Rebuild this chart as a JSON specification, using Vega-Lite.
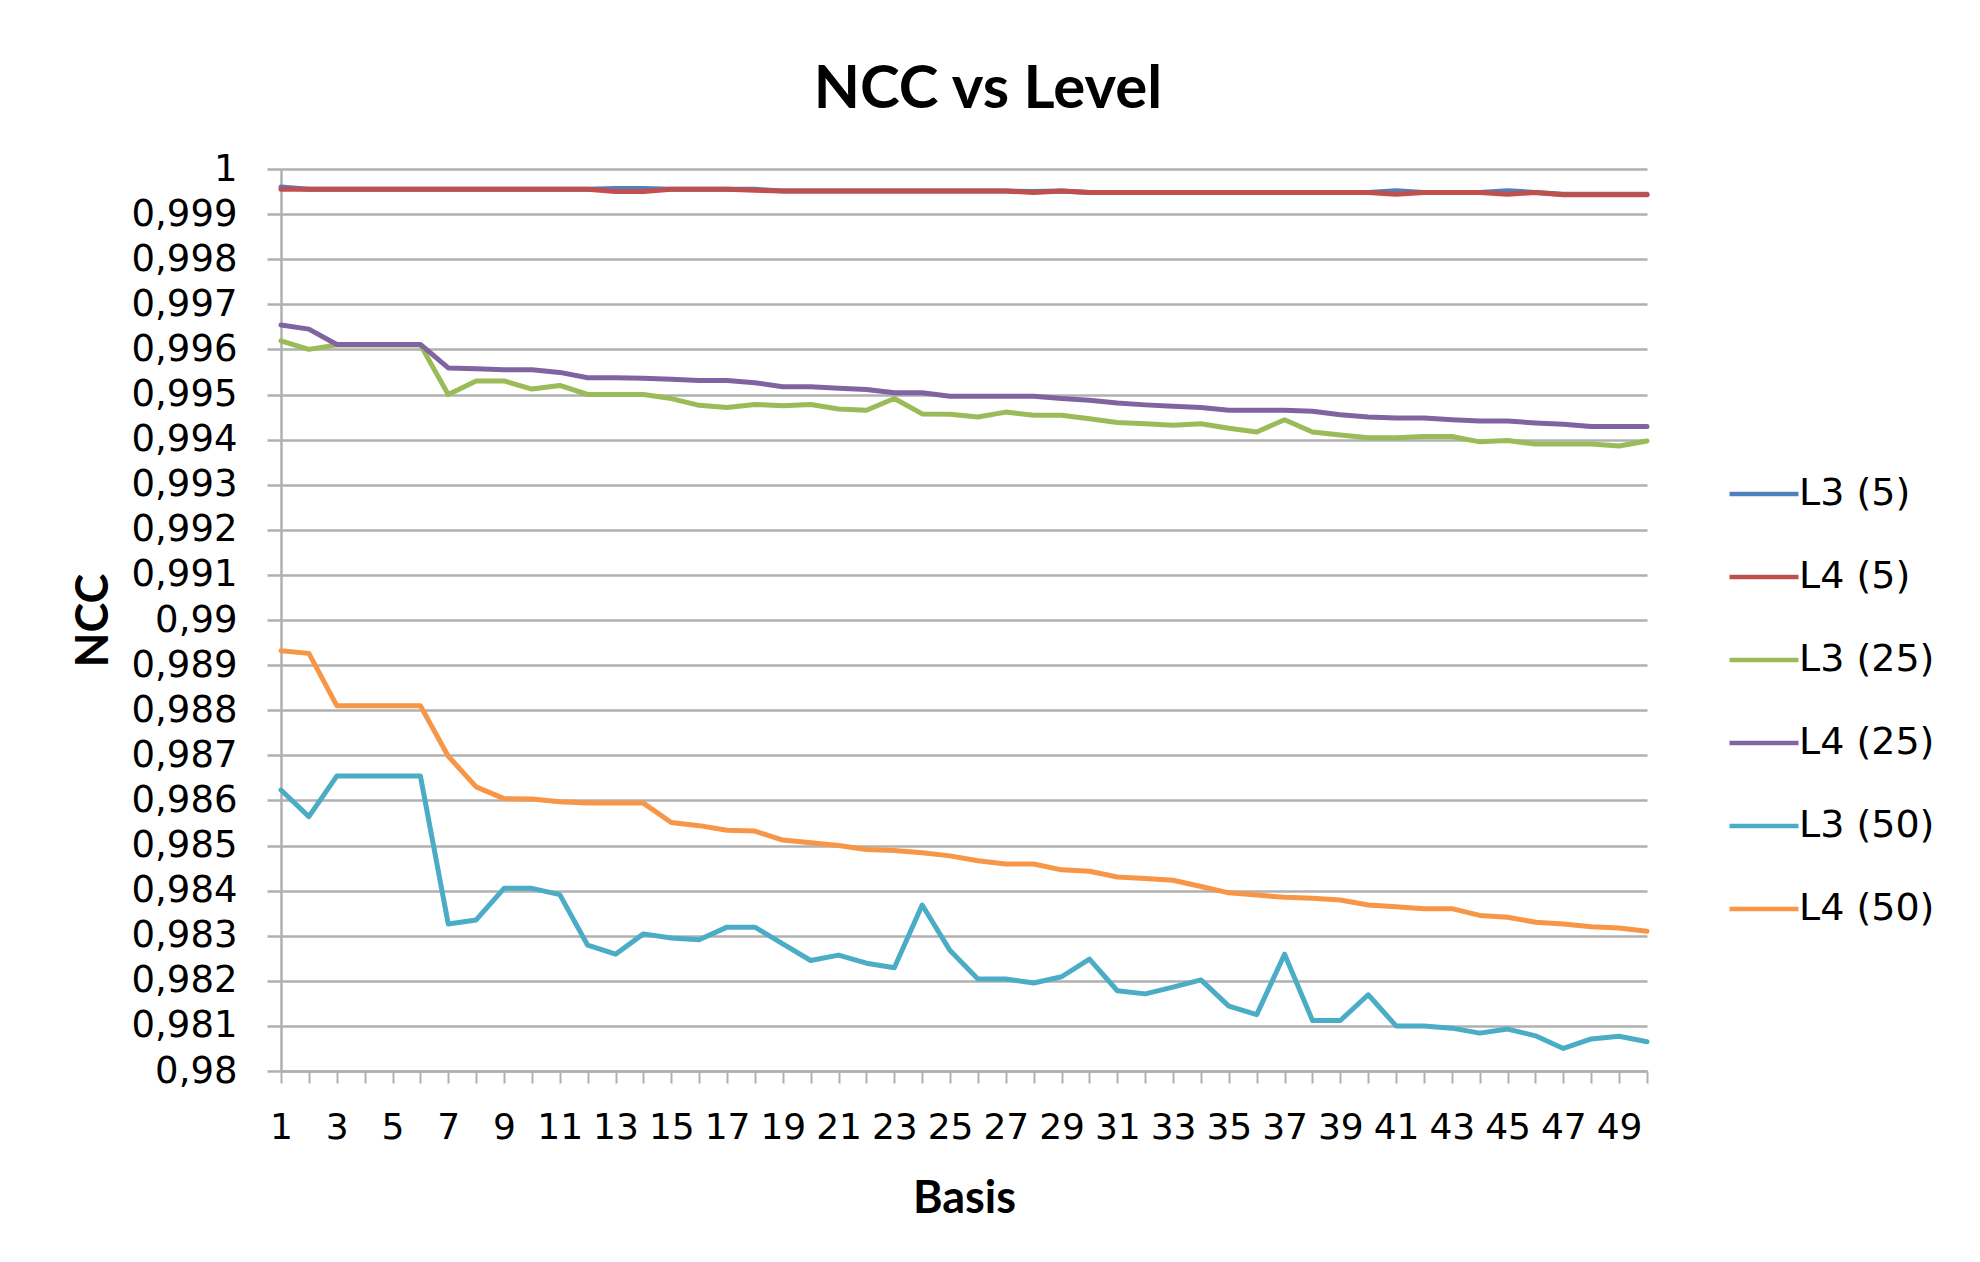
{
  "$schema": "https://vega.github.io/schema/vega-lite/v6.json",
  "width": 1366,
  "height": 902,
  "autosize": {"type": "none"},
  "padding": {"left": 281, "top": 169, "right": 333, "bottom": 191},
  "background": "white",
  "title": {
    "text": "NCC vs Level",
    "font": "Lato",
    "fontWeight": "bold",
    "fontSize": 60,
    "color": "black",
    "anchor": "middle",
    "baseline": "alphabetic",
    "dx": 24,
    "offset": -18
  },
  "data": {
    "values": [
      {"Basis": 1, "L3 (5)": 0.9996, "L4 (5)": 0.99955, "L3 (25)": 0.99619, "L4 (25)": 0.99654, "L3 (50)": 0.98623, "L4 (50)": 0.98932},
      {"Basis": 2, "L3 (5)": 0.99955, "L4 (5)": 0.99955, "L3 (25)": 0.996, "L4 (25)": 0.99645, "L3 (50)": 0.98564, "L4 (50)": 0.98926},
      {"Basis": 3, "L3 (5)": 0.99955, "L4 (5)": 0.99955, "L3 (25)": 0.9961, "L4 (25)": 0.99611, "L3 (50)": 0.98654, "L4 (50)": 0.9881},
      {"Basis": 4, "L3 (5)": 0.99955, "L4 (5)": 0.99955, "L3 (25)": 0.9961, "L4 (25)": 0.99611, "L3 (50)": 0.98654, "L4 (50)": 0.9881},
      {"Basis": 5, "L3 (5)": 0.99955, "L4 (5)": 0.99955, "L3 (25)": 0.9961, "L4 (25)": 0.99611, "L3 (50)": 0.98654, "L4 (50)": 0.9881},
      {"Basis": 6, "L3 (5)": 0.99955, "L4 (5)": 0.99955, "L3 (25)": 0.9961, "L4 (25)": 0.99611, "L3 (50)": 0.98654, "L4 (50)": 0.9881},
      {"Basis": 7, "L3 (5)": 0.99955, "L4 (5)": 0.99955, "L3 (25)": 0.995, "L4 (25)": 0.99559, "L3 (50)": 0.98326, "L4 (50)": 0.98698},
      {"Basis": 8, "L3 (5)": 0.99955, "L4 (5)": 0.99955, "L3 (25)": 0.9953, "L4 (25)": 0.99557, "L3 (50)": 0.98335, "L4 (50)": 0.9863},
      {"Basis": 9, "L3 (5)": 0.99955, "L4 (5)": 0.99955, "L3 (25)": 0.9953, "L4 (25)": 0.99555, "L3 (50)": 0.98405, "L4 (50)": 0.98604},
      {"Basis": 10, "L3 (5)": 0.99955, "L4 (5)": 0.99955, "L3 (25)": 0.99512, "L4 (25)": 0.99555, "L3 (50)": 0.98405, "L4 (50)": 0.98603},
      {"Basis": 11, "L3 (5)": 0.99955, "L4 (5)": 0.99955, "L3 (25)": 0.9952, "L4 (25)": 0.99549, "L3 (50)": 0.98391, "L4 (50)": 0.98597},
      {"Basis": 12, "L3 (5)": 0.99955, "L4 (5)": 0.99955, "L3 (25)": 0.995, "L4 (25)": 0.99537, "L3 (50)": 0.98279, "L4 (50)": 0.98594},
      {"Basis": 13, "L3 (5)": 0.99957, "L4 (5)": 0.9995, "L3 (25)": 0.995, "L4 (25)": 0.99537, "L3 (50)": 0.98259, "L4 (50)": 0.98594},
      {"Basis": 14, "L3 (5)": 0.99957, "L4 (5)": 0.9995, "L3 (25)": 0.995, "L4 (25)": 0.99536, "L3 (50)": 0.98304, "L4 (50)": 0.98594},
      {"Basis": 15, "L3 (5)": 0.99955, "L4 (5)": 0.99955, "L3 (25)": 0.99491, "L4 (25)": 0.99534, "L3 (50)": 0.98295, "L4 (50)": 0.98551},
      {"Basis": 16, "L3 (5)": 0.99955, "L4 (5)": 0.99955, "L3 (25)": 0.99476, "L4 (25)": 0.99531, "L3 (50)": 0.98291, "L4 (50)": 0.98544},
      {"Basis": 17, "L3 (5)": 0.99955, "L4 (5)": 0.99955, "L3 (25)": 0.99471, "L4 (25)": 0.99531, "L3 (50)": 0.98319, "L4 (50)": 0.98534},
      {"Basis": 18, "L3 (5)": 0.99955, "L4 (5)": 0.99953, "L3 (25)": 0.99478, "L4 (25)": 0.99526, "L3 (50)": 0.98319, "L4 (50)": 0.98532},
      {"Basis": 19, "L3 (5)": 0.99951, "L4 (5)": 0.99951, "L3 (25)": 0.99475, "L4 (25)": 0.99517, "L3 (50)": 0.98282, "L4 (50)": 0.98512},
      {"Basis": 20, "L3 (5)": 0.99951, "L4 (5)": 0.99951, "L3 (25)": 0.99478, "L4 (25)": 0.99517, "L3 (50)": 0.98245, "L4 (50)": 0.98506},
      {"Basis": 21, "L3 (5)": 0.99951, "L4 (5)": 0.99951, "L3 (25)": 0.99468, "L4 (25)": 0.99514, "L3 (50)": 0.98257, "L4 (50)": 0.985},
      {"Basis": 22, "L3 (5)": 0.99951, "L4 (5)": 0.99951, "L3 (25)": 0.99465, "L4 (25)": 0.99511, "L3 (50)": 0.98239, "L4 (50)": 0.98491},
      {"Basis": 23, "L3 (5)": 0.99951, "L4 (5)": 0.99951, "L3 (25)": 0.99491, "L4 (25)": 0.99504, "L3 (50)": 0.98229, "L4 (50)": 0.98489},
      {"Basis": 24, "L3 (5)": 0.99951, "L4 (5)": 0.99951, "L3 (25)": 0.99457, "L4 (25)": 0.99504, "L3 (50)": 0.98368, "L4 (50)": 0.98484},
      {"Basis": 25, "L3 (5)": 0.99951, "L4 (5)": 0.99951, "L3 (25)": 0.99456, "L4 (25)": 0.99496, "L3 (50)": 0.98267, "L4 (50)": 0.98477},
      {"Basis": 26, "L3 (5)": 0.99951, "L4 (5)": 0.99951, "L3 (25)": 0.9945, "L4 (25)": 0.99496, "L3 (50)": 0.98204, "L4 (50)": 0.98466},
      {"Basis": 27, "L3 (5)": 0.99951, "L4 (5)": 0.99951, "L3 (25)": 0.99461, "L4 (25)": 0.99496, "L3 (50)": 0.98204, "L4 (50)": 0.98459},
      {"Basis": 28, "L3 (5)": 0.9995, "L4 (5)": 0.99948, "L3 (25)": 0.99454, "L4 (25)": 0.99496, "L3 (50)": 0.98195, "L4 (50)": 0.98459},
      {"Basis": 29, "L3 (5)": 0.99951, "L4 (5)": 0.99951, "L3 (25)": 0.99454, "L4 (25)": 0.99491, "L3 (50)": 0.98209, "L4 (50)": 0.98446},
      {"Basis": 30, "L3 (5)": 0.99948, "L4 (5)": 0.99948, "L3 (25)": 0.99446, "L4 (25)": 0.99487, "L3 (50)": 0.98248, "L4 (50)": 0.98443},
      {"Basis": 31, "L3 (5)": 0.99948, "L4 (5)": 0.99948, "L3 (25)": 0.99438, "L4 (25)": 0.99481, "L3 (50)": 0.98178, "L4 (50)": 0.9843},
      {"Basis": 32, "L3 (5)": 0.99948, "L4 (5)": 0.99948, "L3 (25)": 0.99435, "L4 (25)": 0.99477, "L3 (50)": 0.98171, "L4 (50)": 0.98427},
      {"Basis": 33, "L3 (5)": 0.99948, "L4 (5)": 0.99948, "L3 (25)": 0.99432, "L4 (25)": 0.99474, "L3 (50)": 0.98186, "L4 (50)": 0.98423},
      {"Basis": 34, "L3 (5)": 0.99948, "L4 (5)": 0.99948, "L3 (25)": 0.99435, "L4 (25)": 0.99471, "L3 (50)": 0.98202, "L4 (50)": 0.98409},
      {"Basis": 35, "L3 (5)": 0.99948, "L4 (5)": 0.99948, "L3 (25)": 0.99425, "L4 (25)": 0.99465, "L3 (50)": 0.98144, "L4 (50)": 0.98395},
      {"Basis": 36, "L3 (5)": 0.99948, "L4 (5)": 0.99948, "L3 (25)": 0.99417, "L4 (25)": 0.99465, "L3 (50)": 0.98125, "L4 (50)": 0.9839},
      {"Basis": 37, "L3 (5)": 0.99948, "L4 (5)": 0.99948, "L3 (25)": 0.99444, "L4 (25)": 0.99465, "L3 (50)": 0.98259, "L4 (50)": 0.98385},
      {"Basis": 38, "L3 (5)": 0.99948, "L4 (5)": 0.99948, "L3 (25)": 0.99417, "L4 (25)": 0.99463, "L3 (50)": 0.98112, "L4 (50)": 0.98383},
      {"Basis": 39, "L3 (5)": 0.99948, "L4 (5)": 0.99948, "L3 (25)": 0.9941, "L4 (25)": 0.99455, "L3 (50)": 0.98112, "L4 (50)": 0.98379},
      {"Basis": 40, "L3 (5)": 0.99948, "L4 (5)": 0.99948, "L3 (25)": 0.99404, "L4 (25)": 0.9945, "L3 (50)": 0.98169, "L4 (50)": 0.98368},
      {"Basis": 41, "L3 (5)": 0.99952, "L4 (5)": 0.99944, "L3 (25)": 0.99404, "L4 (25)": 0.99448, "L3 (50)": 0.981, "L4 (50)": 0.98364},
      {"Basis": 42, "L3 (5)": 0.99948, "L4 (5)": 0.99948, "L3 (25)": 0.99407, "L4 (25)": 0.99448, "L3 (50)": 0.981, "L4 (50)": 0.9836},
      {"Basis": 43, "L3 (5)": 0.99948, "L4 (5)": 0.99948, "L3 (25)": 0.99407, "L4 (25)": 0.99444, "L3 (50)": 0.98095, "L4 (50)": 0.9836},
      {"Basis": 44, "L3 (5)": 0.99948, "L4 (5)": 0.99948, "L3 (25)": 0.99395, "L4 (25)": 0.99441, "L3 (50)": 0.98084, "L4 (50)": 0.98345},
      {"Basis": 45, "L3 (5)": 0.99952, "L4 (5)": 0.99944, "L3 (25)": 0.99398, "L4 (25)": 0.99441, "L3 (50)": 0.98093, "L4 (50)": 0.98341},
      {"Basis": 46, "L3 (5)": 0.99948, "L4 (5)": 0.99948, "L3 (25)": 0.9939, "L4 (25)": 0.99437, "L3 (50)": 0.98078, "L4 (50)": 0.9833},
      {"Basis": 47, "L3 (5)": 0.99944, "L4 (5)": 0.99943, "L3 (25)": 0.9939, "L4 (25)": 0.99434, "L3 (50)": 0.9805, "L4 (50)": 0.98326},
      {"Basis": 48, "L3 (5)": 0.99944, "L4 (5)": 0.99943, "L3 (25)": 0.9939, "L4 (25)": 0.99429, "L3 (50)": 0.98071, "L4 (50)": 0.9832},
      {"Basis": 49, "L3 (5)": 0.99944, "L4 (5)": 0.99943, "L3 (25)": 0.99386, "L4 (25)": 0.99429, "L3 (50)": 0.98077, "L4 (50)": 0.98317},
      {"Basis": 50, "L3 (5)": 0.99944, "L4 (5)": 0.99943, "L3 (25)": 0.99397, "L4 (25)": 0.99429, "L3 (50)": 0.98065, "L4 (50)": 0.9831}
    ]
  },
  "transform": [
    {"fold": ["L3 (5)", "L4 (5)", "L3 (25)", "L4 (25)", "L3 (50)", "L4 (50)"], "as": ["Series", "NCC"]}
  ],
  "mark": {"type": "line", "strokeWidth": 5, "strokeJoin": "round", "strokeCap": "round"},
  "encoding": {
    "x": {
      "field": "Basis",
      "type": "quantitative",
      "scale": {"domain": [1, 50], "nice": false, "zero": false},
      "axis": {
        "title": "Basis",
        "values": [1,2,3,4,5,6,7,8,9,10,11,12,13,14,15,16,17,18,19,20,21,22,23,24,25,26,27,28,29,30,31,32,33,34,35,36,37,38,39,40,41,42,43,44,45,46,47,48,49,50],
        "labelExpr": "datum.value % 2 == 1 ? datum.label : ''",
        "grid": false,
        "labelFlush": false,
        "labelOverlap": false,
        "labelFont": "DejaVu Sans",
        "labelFontSize": 36,
        "labelColor": "black",
        "labelPadding": 27,
        "tickSize": 12,
        "tickColor": "#b0b0b0",
        "tickWidth": 2,
        "domainColor": "#b0b0b0",
        "domainWidth": 2.5,
        "titleFont": "Lato",
        "titleFontWeight": "bold",
        "titleFontSize": 45,
        "titleColor": "black",
        "titleBaseline": "alphabetic",
        "titleY": 141
      }
    },
    "y": {
      "field": "NCC",
      "type": "quantitative",
      "scale": {"domain": [0.98, 1], "nice": false, "zero": false},
      "axis": {
        "title": "NCC",
        "values": [0.98,0.981,0.982,0.983,0.984,0.985,0.986,0.987,0.988,0.989,0.99,0.991,0.992,0.993,0.994,0.995,0.996,0.997,0.998,0.999,1],
        "labelExpr": "replace(format(datum.value, '.3~f'), '.', ',')",
        "labelFont": "DejaVu Sans",
        "labelFontSize": 37,
        "labelColor": "black",
        "labelPadding": 30,
        "labelOverlap": false,
        "labelFlush": false,
        "tickSize": 14,
        "tickColor": "#b0b0b0",
        "tickWidth": 2.5,
        "domainColor": "#b0b0b0",
        "domainWidth": 2.5,
        "grid": true,
        "gridColor": "#b0b0b0",
        "gridWidth": 2.5,
        "titleFont": "Lato",
        "titleFontWeight": "bold",
        "titleFontSize": 45,
        "titleColor": "black",
        "titleAngle": -90,
        "titleBaseline": "middle",
        "titleX": -188,
        "titleY": 451
      }
    },
    "color": {
      "field": "Series",
      "type": "nominal",
      "scale": {
        "domain": ["L3 (5)", "L4 (5)", "L3 (25)", "L4 (25)", "L3 (50)", "L4 (50)"],
        "range": ["#4F81BD", "#C0504D", "#9BBB59", "#8064A2", "#4BACC6", "#F79646"]
      },
      "legend": {
        "title": null,
        "orient": "none",
        "legendX": 1446,
        "legendY": 288,
        "symbolType": "stroke",
        "symbolSize": 4761,
        "symbolStrokeWidth": 4.5,
        "labelFont": "DejaVu Sans",
        "labelFontSize": 38,
        "labelColor": "black",
        "labelOffset": -2,
        "rowPadding": 27,
        "padding": 0,
        "labelLimit": 400
      }
    }
  },
  "config": {
    "view": {"stroke": null}
  }
}
